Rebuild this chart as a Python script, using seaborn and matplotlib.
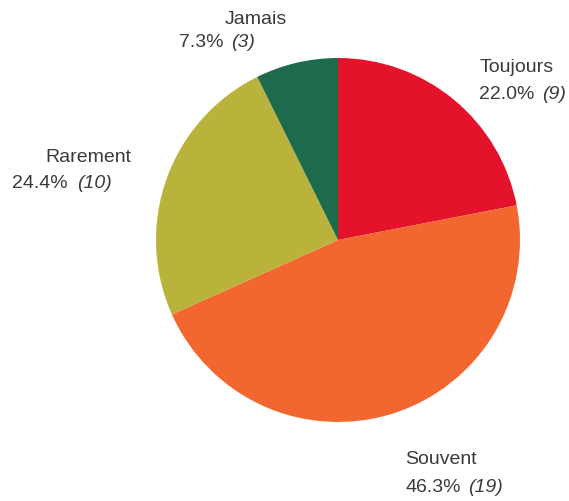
import matplotlib
matplotlib.use("Agg")
import matplotlib.pyplot as plt
import seaborn as sns
import pandas as pd

categories = ["Toujours", "Souvent", "Rarement", "Jamais"]
counts = [9, 19, 10, 3]
percent_labels = ["22.0%", "46.3%", "24.4%", "7.3%"]
count_labels = ["(9)", "(19)", "(10)", "(3)"]
colors = ["#E5122C", "#F2672F", "#B9B33C", "#1E6A4C"]

df = pd.DataFrame({"cat": categories, "n": counts})

sns.set_theme(style="white")
plt.rcParams["font.family"] = ["Liberation Sans", "DejaVu Sans"]

W, H = 569, 501
fig = plt.figure(figsize=(W / 100, H / 100), dpi=100)
fig.patch.set_facecolor("white")

cx, cy, r = 338, 240, 182
ax = fig.add_axes([(cx - r) / W, (H - cy - r) / H, 2 * r / W, 2 * r / H])
ax.pie(df["n"], colors=colors, startangle=90, counterclock=False,
       wedgeprops=dict(linewidth=0))
ax.set_xlim(-1, 1)
ax.set_ylim(-1, 1)
ax.set_aspect("auto")
ax.axis("off")

tc = "#3a3a3a"
fs = 14

def px(x, y):
    return x / W, 1 - y / H

# (name x, name baseline y, pct left x, count right x, line2 baseline y)
layout = {
    "Toujours": (480, 72, 479, 566, 99),
    "Souvent": (405, 464, 405, 503, 492),
    "Rarement": (45, 162, 12, 112, 188),
    "Jamais": (225, 24, 179, 255, 47),
}
for cat, pct, cnt in zip(categories, percent_labels, count_labels):
    nx, ny, lx, rx, by = layout[cat]
    fig.text(*px(nx, ny), cat, ha="left", va="baseline", fontsize=fs, color=tc)
    fig.text(*px(lx, by), pct, ha="left", va="baseline", fontsize=fs, color=tc)
    fig.text(*px(rx, by), cnt, ha="right", va="baseline", fontsize=fs,
             color=tc, style="italic")

fig.savefig("out.png", dpi=100, facecolor="white")
